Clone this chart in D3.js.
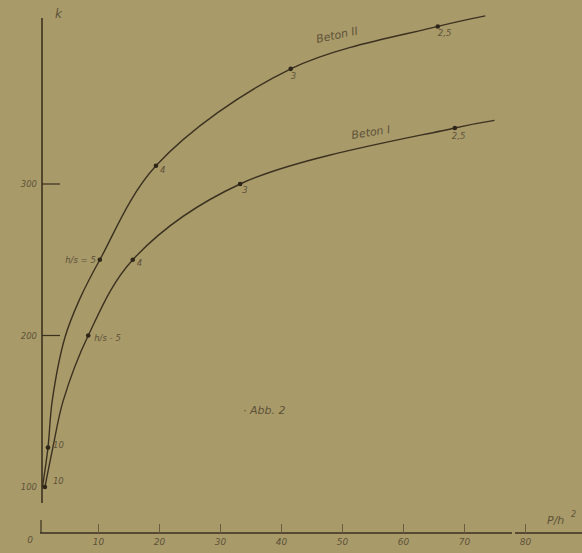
<!DOCTYPE html>
<html>
<head>
<meta charset="utf-8">
<script src="https://cdn.jsdelivr.net/npm/d3@7"></script>
<style>
  body { margin: 0; background: #a99a6a; }
  svg { display: block; }
  .lbl { font-family: "DejaVu Sans", sans-serif; font-style: italic; fill: #5d5238; }
</style>
</head>
<body>
<div id="chart"></div>
<script>
// x = P/h^2, k = value
const xTicks = [10, 20, 30, 40, 50, 60, 70, 80];
const yTicks = [100, 200, 300];

// Beton II (upper curve)
const beton2_x = [0.9, 1.8, 2.5, 4.6, 7.0, 10.3, 19.5, 41.6, 65.7, 73.5];
const beton2_k = [100, 126, 157, 199, 224, 250, 312, 376, 404, 411];
// Beton I (lower curve)
const beton1_x = [1.3, 2.6, 4.3, 8.4, 15.7, 33.3, 68.5, 75];
const beton1_k = [100, 126, 157, 200, 250, 300, 337, 342];

// marked points and their h/s labels
const beton2_marks_x = [1.8, 10.3, 19.5, 41.6, 65.7];
const beton2_marks_k = [126, 250, 312, 376, 404];
const beton2_marks_t = ["10", "h/s = 5", "4", "3", "2,5"];
const beton1_marks_x = [1.3, 8.4, 15.7, 33.3, 68.5];
const beton1_marks_k = [100, 200, 250, 300, 337];
const beton1_marks_t = ["10", "h/s - 5", "4", "3", "2,5"];

const width = 582, height = 553;
const ink = "#3b3120";

const svg = d3.select("#chart").append("svg")
    .attr("width", width)
    .attr("height", height);

const x = d3.scaleLinear().domain([0, 80]).range([37, 525]);
const y = d3.scaleLinear().domain([100, 300]).range([487, 184]);
const axisY = 533;   // x axis drawn low, k axis is broken below 100

// axes lines
svg.append("line")
    .attr("x1", 42).attr("x2", 42)
    .attr("y1", 18).attr("y2", 503)
    .attr("stroke", ink).attr("stroke-width", 1.6);

svg.append("line")
    .attr("x1", x(0) + 3).attr("x2", 512)
    .attr("y1", axisY).attr("y2", axisY)
    .attr("stroke", ink).attr("stroke-width", 1.6);
svg.append("line")
    .attr("x1", 515).attr("x2", 582)
    .attr("y1", axisY).attr("y2", axisY)
    .attr("stroke", ink).attr("stroke-width", 1.6);

// origin tick and label
svg.append("line")
    .attr("x1", 41).attr("x2", 41)
    .attr("y1", 520).attr("y2", axisY)
    .attr("stroke", ink).attr("stroke-width", 1.2);
svg.append("text").attr("class", "lbl")
    .attr("x", 30).attr("y", 543)
    .attr("font-size", 9).attr("text-anchor", "middle")
    .text("0");

// x ticks
const xAxis = d3.axisBottom(x)
    .tickValues(xTicks)
    .tickSizeInner(-9)
    .tickSizeOuter(0)
    .tickPadding(4)
    .tickFormat(d3.format("d"));

const gx = svg.append("g")
    .attr("transform", "translate(0," + axisY + ")")
    .call(xAxis);
gx.select(".domain").remove();
gx.selectAll(".tick line").attr("stroke", "#6a5d3e").attr("stroke-width", 1);
gx.selectAll(".tick text")
    .attr("class", "lbl")
    .attr("font-size", 9)
    .attr("dy", "0.9em");

// y ticks
svg.selectAll(".ytick")
    .data(yTicks.filter(d => d > 100))
    .join("line")
    .attr("class", "ytick")
    .attr("x1", 42).attr("x2", 60)
    .attr("y1", d => y(d)).attr("y2", d => y(d))
    .attr("stroke", ink).attr("stroke-width", 1.2);

svg.selectAll(".ylab")
    .data(yTicks)
    .join("text")
    .attr("class", "lbl ylab")
    .attr("x", 37)
    .attr("y", d => y(d) + 3)
    .attr("font-size", 8.5)
    .attr("text-anchor", "end")
    .text(d => d);

// axis titles
svg.append("text").attr("class", "lbl")
    .attr("x", 55).attr("y", 18)
    .attr("font-size", 12)
    .text("k");
svg.append("text").attr("class", "lbl")
    .attr("x", 547).attr("y", 524)
    .attr("font-size", 11)
    .text("P/h");
svg.append("text").attr("class", "lbl")
    .attr("x", 571).attr("y", 517)
    .attr("font-size", 8)
    .text("2");

// curves
const line = d3.line()
    .x(d => x(d[0]))
    .y(d => y(d[1]))
    .curve(d3.curveCatmullRom.alpha(0.5));

const beton2 = beton2_x.map((v, i) => [v, beton2_k[i]]);
const beton1 = beton1_x.map((v, i) => [v, beton1_k[i]]);

svg.append("path")
    .datum(beton2)
    .attr("d", line)
    .attr("fill", "none")
    .attr("stroke", ink)
    .attr("stroke-width", 1.4);

svg.append("path")
    .datum(beton1)
    .attr("d", line)
    .attr("fill", "none")
    .attr("stroke", ink)
    .attr("stroke-width", 1.4);

// marks
function drawMarks(xs, ks, ts, offsets) {
    const data = xs.map((v, i) => ({ x: v, k: ks[i], t: ts[i], o: offsets[i] }));
    svg.append("g").selectAll("circle")
        .data(data)
        .join("circle")
        .attr("cx", d => x(d.x))
        .attr("cy", d => y(d.k))
        .attr("r", 2.3)
        .attr("fill", "#2e2618");
    svg.append("g").selectAll("text")
        .data(data)
        .join("text")
        .attr("class", "lbl")
        .attr("x", d => x(d.x) + d.o[0])
        .attr("y", d => y(d.k) + d.o[1])
        .attr("font-size", 8.5)
        .attr("text-anchor", d => d.o[2] || "start")
        .text(d => d.t);
}

drawMarks(beton2_marks_x, beton2_marks_k, beton2_marks_t,
    [[5, 0], [-4, 3, "end"], [4, 7], [0, 10], [0, 10]]);
drawMarks(beton1_marks_x, beton1_marks_k, beton1_marks_t,
    [[8, -3], [6, 5], [4, 6], [2, 9], [-3, 11]]);

// curve names
svg.append("text").attr("class", "lbl")
    .attr("x", 317).attr("y", 43)
    .attr("font-size", 11)
    .attr("transform", "rotate(-12,317,43)")
    .text("Beton II");
svg.append("text").attr("class", "lbl")
    .attr("x", 352).attr("y", 139)
    .attr("font-size", 11)
    .attr("transform", "rotate(-9,352,139)")
    .text("Beton I");

// caption
svg.append("text").attr("class", "lbl")
    .attr("x", 243).attr("y", 414)
    .attr("font-size", 11)
    .text("· Abb. 2");
</script>
</body>
</html>
